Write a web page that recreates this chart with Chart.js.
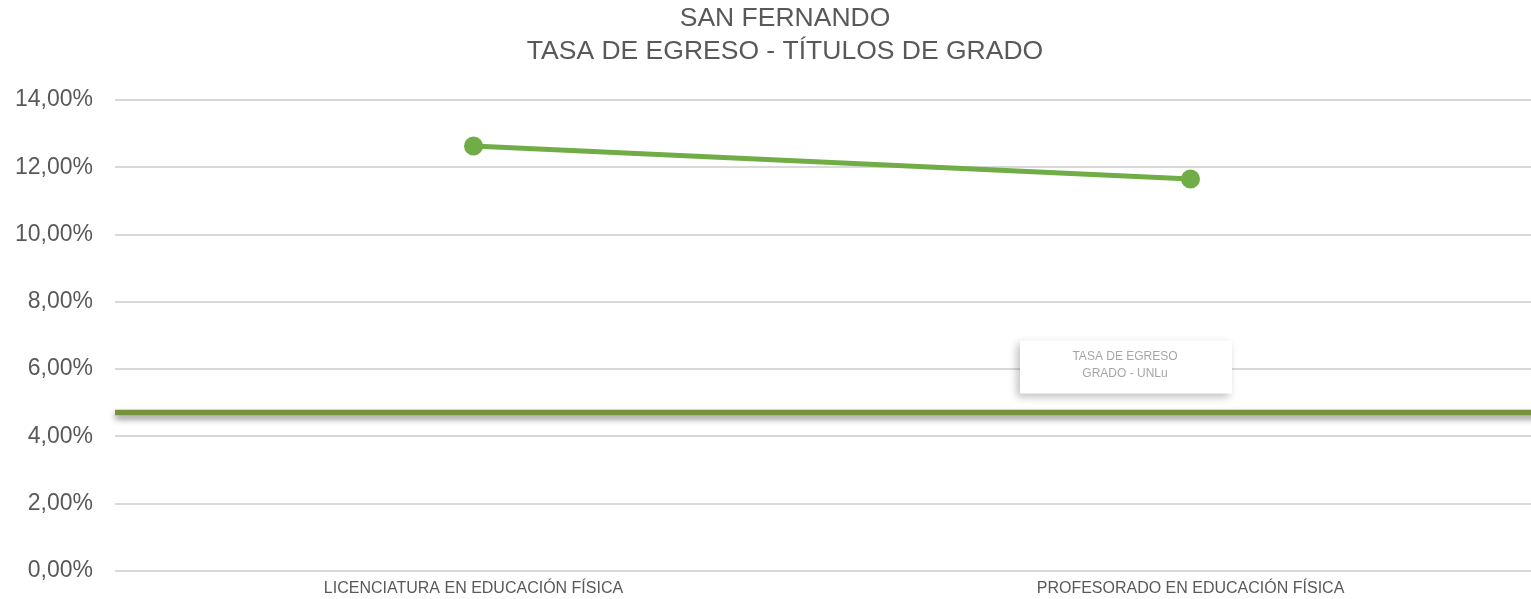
<!DOCTYPE html>
<html lang="es">
<head>
  <meta charset="UTF-8" />
  <title>San Fernando - Tasa de egreso</title>
  <style>
    body {
      margin: 0;
      padding: 0;
      background: #fff;
      overflow: hidden;
    }
    .wrap {
      width: 1570px;
      height: 599px;
    }
  </style>
</head>
<body>
  <div class="wrap"><canvas id="chart"></canvas></div>

  <script src="https://cdn.jsdelivr.net/npm/chart.js"></script>
  <script>
    const carreras = ['LICENCIATURA EN EDUCACIÓN FÍSICA', 'PROFESORADO EN EDUCACIÓN FÍSICA'];
    const tasaEgreso = [12.63, 11.65];
    const tasaUnlu = 4.71;
    const etiquetaUnlu = ['TASA DE EGRESO', 'GRADO - UNLu'];
    const titulo = ['SAN FERNANDO', 'TASA DE EGRESO - TÍTULOS DE GRADO'];

    const FONT = '"Liberation Sans", Arial, sans-serif';
    const fmt = v => v.toFixed(2).replace('.', ',') + '%';

    // sombra para la linea de referencia
    const sombra = {
      id: 'sombra',
      beforeDatasetDraw(chart, args) {
        if (args.index !== 1) return;
        const ctx = chart.ctx;
        ctx.save();
        ctx.shadowColor = 'rgba(0,0,0,0.45)';
        ctx.shadowBlur = 6;
        ctx.shadowOffsetY = 4;
      },
      afterDatasetDraw(chart, args) {
        if (args.index !== 1) return;
        chart.ctx.restore();
      }
    };

    // cuadro con la etiqueta de la tasa UNLu
    const cuadroUnlu = {
      id: 'cuadroUnlu',
      beforeDatasetsDraw(chart) {
        const ctx = chart.ctx;
        const y = chart.scales.y.getPixelForValue(tasaUnlu);
        const x = 1020, w = 212, h = 53, top = y - 19 - h;
        ctx.save();
        ctx.shadowColor = 'rgba(0,0,0,0.25)';
        ctx.shadowBlur = 8;
        ctx.shadowOffsetX = -3;
        ctx.shadowOffsetY = 3;
        ctx.fillStyle = '#fff';
        ctx.fillRect(x, top, w, h);
        ctx.restore();
        ctx.save();
        ctx.fillStyle = '#A6A6A6';
        ctx.font = '12px ' + FONT;
        ctx.textAlign = 'center';
        ctx.textBaseline = 'middle';
        ctx.fillText(etiquetaUnlu[0], x + w / 2 - 1, top + 16);
        ctx.fillText(etiquetaUnlu[1], x + w / 2 - 1, top + 33);
        ctx.restore();
      }
    };

    new Chart(document.getElementById('chart'), {
      type: 'line',
      data: {
        labels: carreras,
        datasets: [{
          data: tasaEgreso,
          borderColor: '#70AD47',
          backgroundColor: '#70AD47',
          borderWidth: 5,
          pointRadius: 7,
          pointHoverRadius: 7,
          tension: 0
        }, {
          data: [{ x: 0, y: tasaUnlu }, { x: 1, y: tasaUnlu }],
          xAxisID: 'xRef',
          borderColor: '#77933C',
          borderWidth: 5.5,
          pointRadius: 0,
          clip: false
        }]
      },
      options: {
        responsive: true,
        maintainAspectRatio: false,
        animation: false,
        layout: { padding: { left: 0, right: 0, top: 2, bottom: 0 } },
        plugins: {
          legend: { display: false },
          tooltip: { enabled: false },
          title: {
            display: true,
            text: titulo,
            color: '#595959',
            font: { family: FONT, size: 26.5, weight: 'normal', lineHeight: 1.245 },
            padding: { top: 0, bottom: 32 }
          }
        },
        scales: {
          x: {
            offset: true,
            grid: { display: false, drawTicks: false },
            border: { display: false },
            ticks: {
              color: '#595959',
              font: { family: FONT, size: 16 },
              maxRotation: 0,
              padding: 8
            },
            afterFit(scale) { scale.height = 28; }
          },
          xRef: {
            type: 'linear',
            display: false,
            min: 0,
            max: 1
          },
          y: {
            min: 0,
            max: 14,
            ticks: {
              stepSize: 2,
              color: '#595959',
              font: { family: FONT, size: 23 },
              padding: 22,
              callback: v => fmt(v)
            },
            grid: { color: '#D9D9D9', lineWidth: 2, drawTicks: false },
            border: { display: false },
            afterFit(scale) {
              scale.width = 115;
              scale.paddingTop = 0;
              scale.paddingBottom = 0;
            }
          },
          // eje vacio a la derecha, solo reserva espacio
          yDer: {
            position: 'right',
            min: 0,
            max: 14,
            grid: { display: false, drawTicks: false },
            border: { display: false },
            ticks: { display: false },
            afterFit(scale) { scale.width = 21; }
          }
        }
      },
      plugins: [sombra, cuadroUnlu]
    });
  </script>
</body>
</html>
